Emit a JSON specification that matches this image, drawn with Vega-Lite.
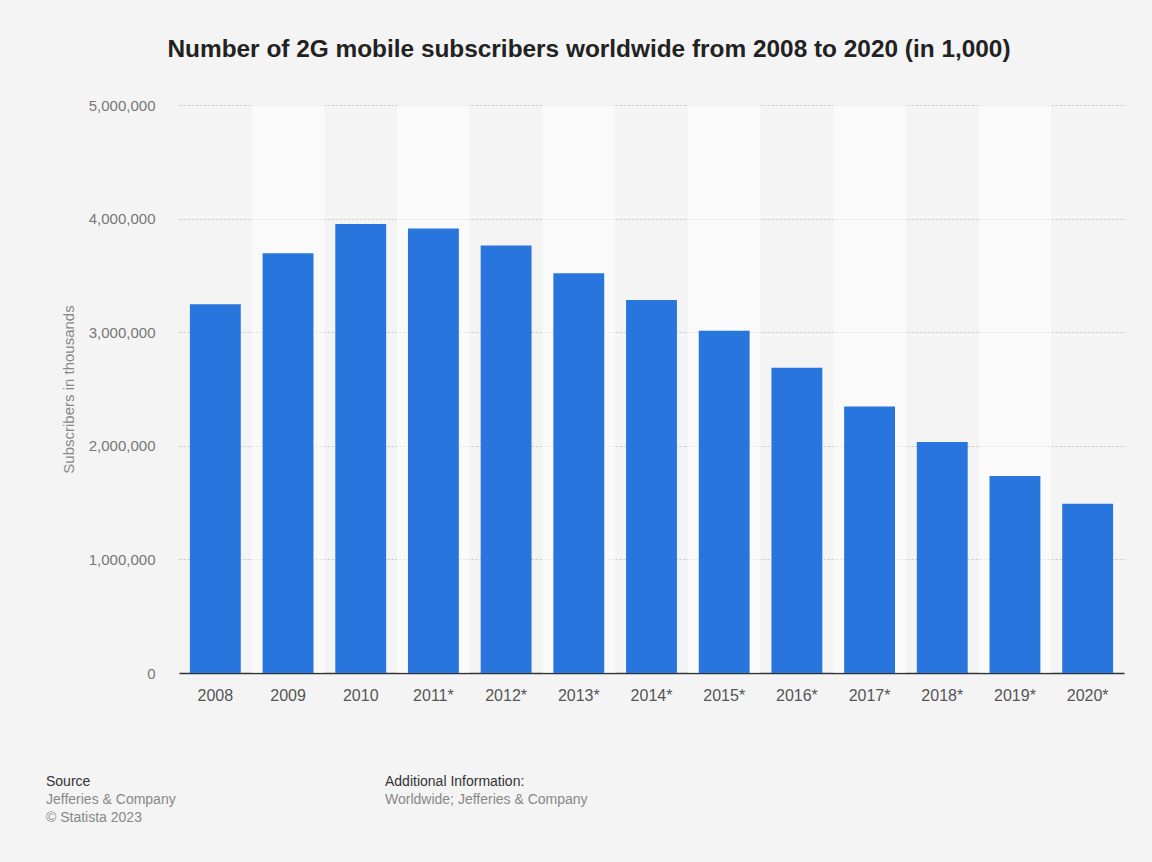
{
  "$schema": "https://vega.github.io/schema/vega-lite/v6.json",
  "background": "#f4f4f4",
  "padding": {"left": 46, "top": 36, "right": 28, "bottom": 37},
  "bounds": "flush",
  "spacing": 88,
  "config": {
    "view": {"stroke": null},
    "font": "Liberation Sans",
    "axisX": {
      "labelFontSize": 16, "labelColor": "#555555", "labelPadding": 14, "ticks": false, "tickSize": 0,
      "domainColor": "#333333", "domainWidth": 1.5, "labelAngle": 0, "grid": false
    },
    "axisY": {
      "labelFontSize": 15, "labelColor": "#777777", "labelPadding": 24, "ticks": false, "tickSize": 0,
      "domain": false, "grid": true, "gridColor": "#c4c4c4", "gridDash": [2, 2], "gridWidth": 1,
      "titleFontSize": 15, "titleColor": "#888888", "titleFontWeight": "normal", "titlePadding": 12
    }
  },
  "title": {
    "text": "Number of 2G mobile subscribers worldwide from 2008 to 2020 (in 1,000)",
    "fontSize": 24.4, "fontWeight": "bold", "color": "#222222", "anchor": "middle", "offset": 36, "dx": 4,
    "font": "Liberation Sans"
  },
  "datasets": {
    "subs": [
      {"year": "2008", "value": 3245000},
      {"year": "2009", "value": 3695000},
      {"year": "2010", "value": 3953000},
      {"year": "2011*", "value": 3913000},
      {"year": "2012*", "value": 3763000},
      {"year": "2013*", "value": 3519000},
      {"year": "2014*", "value": 3283000},
      {"year": "2015*", "value": 3013000},
      {"year": "2016*", "value": 2687000},
      {"year": "2017*", "value": 2346000},
      {"year": "2018*", "value": 2034000},
      {"year": "2019*", "value": 1735000},
      {"year": "2020*", "value": 1490000}
    ]
  },
  "vconcat": [
    {
      "width": 945,
      "height": 568,
      "data": {"name": "subs"},
      "layer": [
        {
          "transform": [{"window": [{"op": "row_number", "as": "idx"}]}],
          "mark": {"type": "bar", "color": "#ffffff", "width": {"band": 1}},
          "encoding": {
            "x": {"field": "year", "type": "nominal", "sort": null, "title": null,
                  "scale": {"paddingInner": 0, "paddingOuter": 0}},
            "y": {"datum": 5000000, "type": "quantitative", "title": "Subscribers in thousands",
                  "scale": {"domain": [0, 5000000], "nice": false},
                  "axis": {"format": ",d", "values": [0, 1000000, 2000000, 3000000, 4000000, 5000000]}},
            "opacity": {"condition": {"test": "datum.idx % 2 == 0", "value": 0.5}, "value": 0}
          }
        },
        {
          "mark": {"type": "bar", "color": "#2876dd", "width": {"band": 0.7}},
          "encoding": {
            "x": {"field": "year", "type": "nominal", "sort": null, "title": null},
            "y": {"field": "value", "type": "quantitative", "title": "Subscribers in thousands",
                  "axis": {"format": ",d", "values": [0, 1000000, 2000000, 3000000, 4000000, 5000000]}}
          }
        }
      ]
    },
    {
      "spacing": 0,
      "bounds": "flush",
      "hconcat": [
        {
          "width": 206, "height": 1,
          "data": {"values": [{}]},
          "mark": {"type": "text"},
          "encoding": {"text": {"value": ""}},
          "title": {
            "text": "Source",
            "subtitle": ["Jefferies & Company", "© Statista 2023"],
            "orient": "bottom", "anchor": "start", "dx": -133, "offset": 8,
            "fontSize": 14, "fontWeight": "normal", "color": "#333333", "font": "Liberation Sans",
            "subtitleFont": "Liberation Sans", "subtitleFontSize": 14, "subtitleColor": "#888888",
            "subtitlePadding": 4, "subtitleLineHeight": 18
          }
        },
        {
          "width": 400, "height": 1,
          "data": {"values": [{}]},
          "mark": {"type": "text"},
          "encoding": {"text": {"value": ""}},
          "title": {
            "text": "Additional Information:",
            "subtitle": ["Worldwide; Jefferies & Company"],
            "orient": "bottom", "anchor": "start", "offset": 8,
            "fontSize": 14, "fontWeight": "normal", "color": "#333333", "font": "Liberation Sans",
            "subtitleFont": "Liberation Sans", "subtitleFontSize": 14, "subtitleColor": "#888888",
            "subtitlePadding": 4, "subtitleLineHeight": 18
          }
        }
      ]
    }
  ]
}
